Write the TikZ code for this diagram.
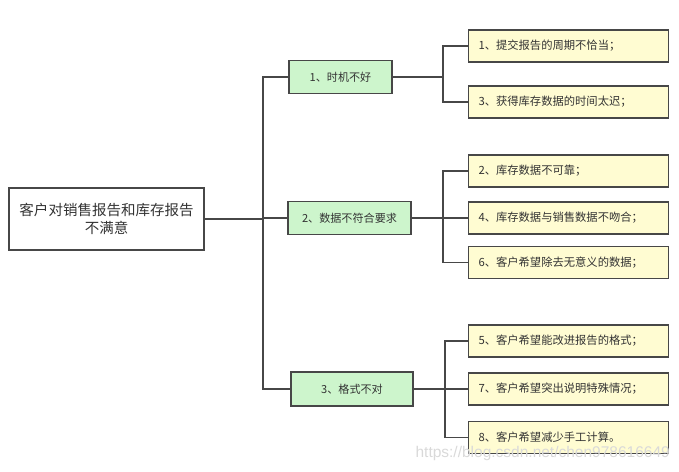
\documentclass[tikz,border=0pt]{standalone}
\usepackage{fontspec}
\setmainfont{Noto Sans CJK SC}
\newfontfamily\wmfont{Liberation Sans}
\definecolor{edgec}{HTML}{474747}
\definecolor{greenf}{HTML}{CDF5CC}
\definecolor{yellowf}{HTML}{FFFCD2}
\definecolor{textc}{HTML}{333333}
\begin{document}
\begin{tikzpicture}[x=1pt,y=-1pt,
  rootbox/.style={draw=edgec,line width=1.6pt,fill=white,minimum width=195pt,minimum height=62pt,align=center,font=\fontsize{14.5}{18}\selectfont,text=textc,inner sep=0pt},
  catbox/.style={draw=edgec,line width=1.6pt,fill=greenf,minimum height=33pt,font=\fontsize{11.1}{12}\selectfont,text=textc,inner sep=0pt},
  itembox/.style={draw=edgec,line width=1.6pt,fill=yellowf,minimum width=200pt,minimum height=32pt,font=\fontsize{11.3}{13}\selectfont,text=textc,align=left,text width=180pt,inner xsep=10pt,inner ysep=0pt},
  conn/.style={draw=edgec,line width=1.8pt}]
\useasboundingbox (0,0) rectangle (679,471);
\node[rootbox] (root) at (106.5,219) {客户对销售报告和库存报告\\不满意};
\node[catbox,minimum width=103pt] (g1) at (340.5,77) {1、时机不好};
\node[catbox,minimum width=123pt] (g2) at (349.5,218) {2、数据不符合要求};
\node[catbox,minimum width=122pt,minimum height=34pt] (g3) at (352,389) {3、格式不对};
\node[itembox] (y1) at (568.5,46) {1、提交报告的周期不恰当；};
\node[itembox] (y3) at (568.5,102) {3、获得库存数据的时间太迟；};
\node[itembox] (y2) at (568.5,171) {2、库存数据不可靠；};
\node[itembox] (y4) at (568.5,218) {4、库存数据与销售数据不吻合；};
\node[itembox] (y6) at (568.5,262.5) {6、客户希望除去无意义的数据；};
\node[itembox] (y5) at (568.5,341) {5、客户希望能改进报告的格式；};
\node[itembox] (y7) at (568.5,389) {7、客户希望突出说明特殊情况；};
\node[itembox] (y8) at (568.5,437.5) {8、客户希望减少手工计算。};
\coordinate (t) at (263,0);
\coordinate (b1) at (443,0);
\coordinate (b2) at (443,0);
\coordinate (b3) at (445,0);
\draw[conn] (root.east) -- (root.east -| t);
\draw[conn] (g1.west) -- (g1.west -| t) -- (g3.west -| t) -- (g3.west);
\draw[conn] (g2.west) -- (g2.west -| t);
\draw[conn] (g1.east) -- (g1.east -| b1);
\draw[conn] (y1.west) -- (y1.west -| b1) -- (y3.west -| b1) -- (y3.west);
\draw[conn] (g2.east) -- (y4.west);
\draw[conn] (y2.west) -- (y2.west -| b2) -- (y6.west -| b2) -- (y6.west);
\draw[conn] (g3.east) -- (y7.west);
\draw[conn] (y5.west) -- (y5.west -| b3) -- (y8.west -| b3) -- (y8.west);
\node[text=black!15,font=\wmfont\fontsize{15.5}{17}\selectfont,anchor=east,inner sep=0pt] (wm) at (670,453) {https://blog.csdn.net/chen978616649};
\end{tikzpicture}
\end{document}
